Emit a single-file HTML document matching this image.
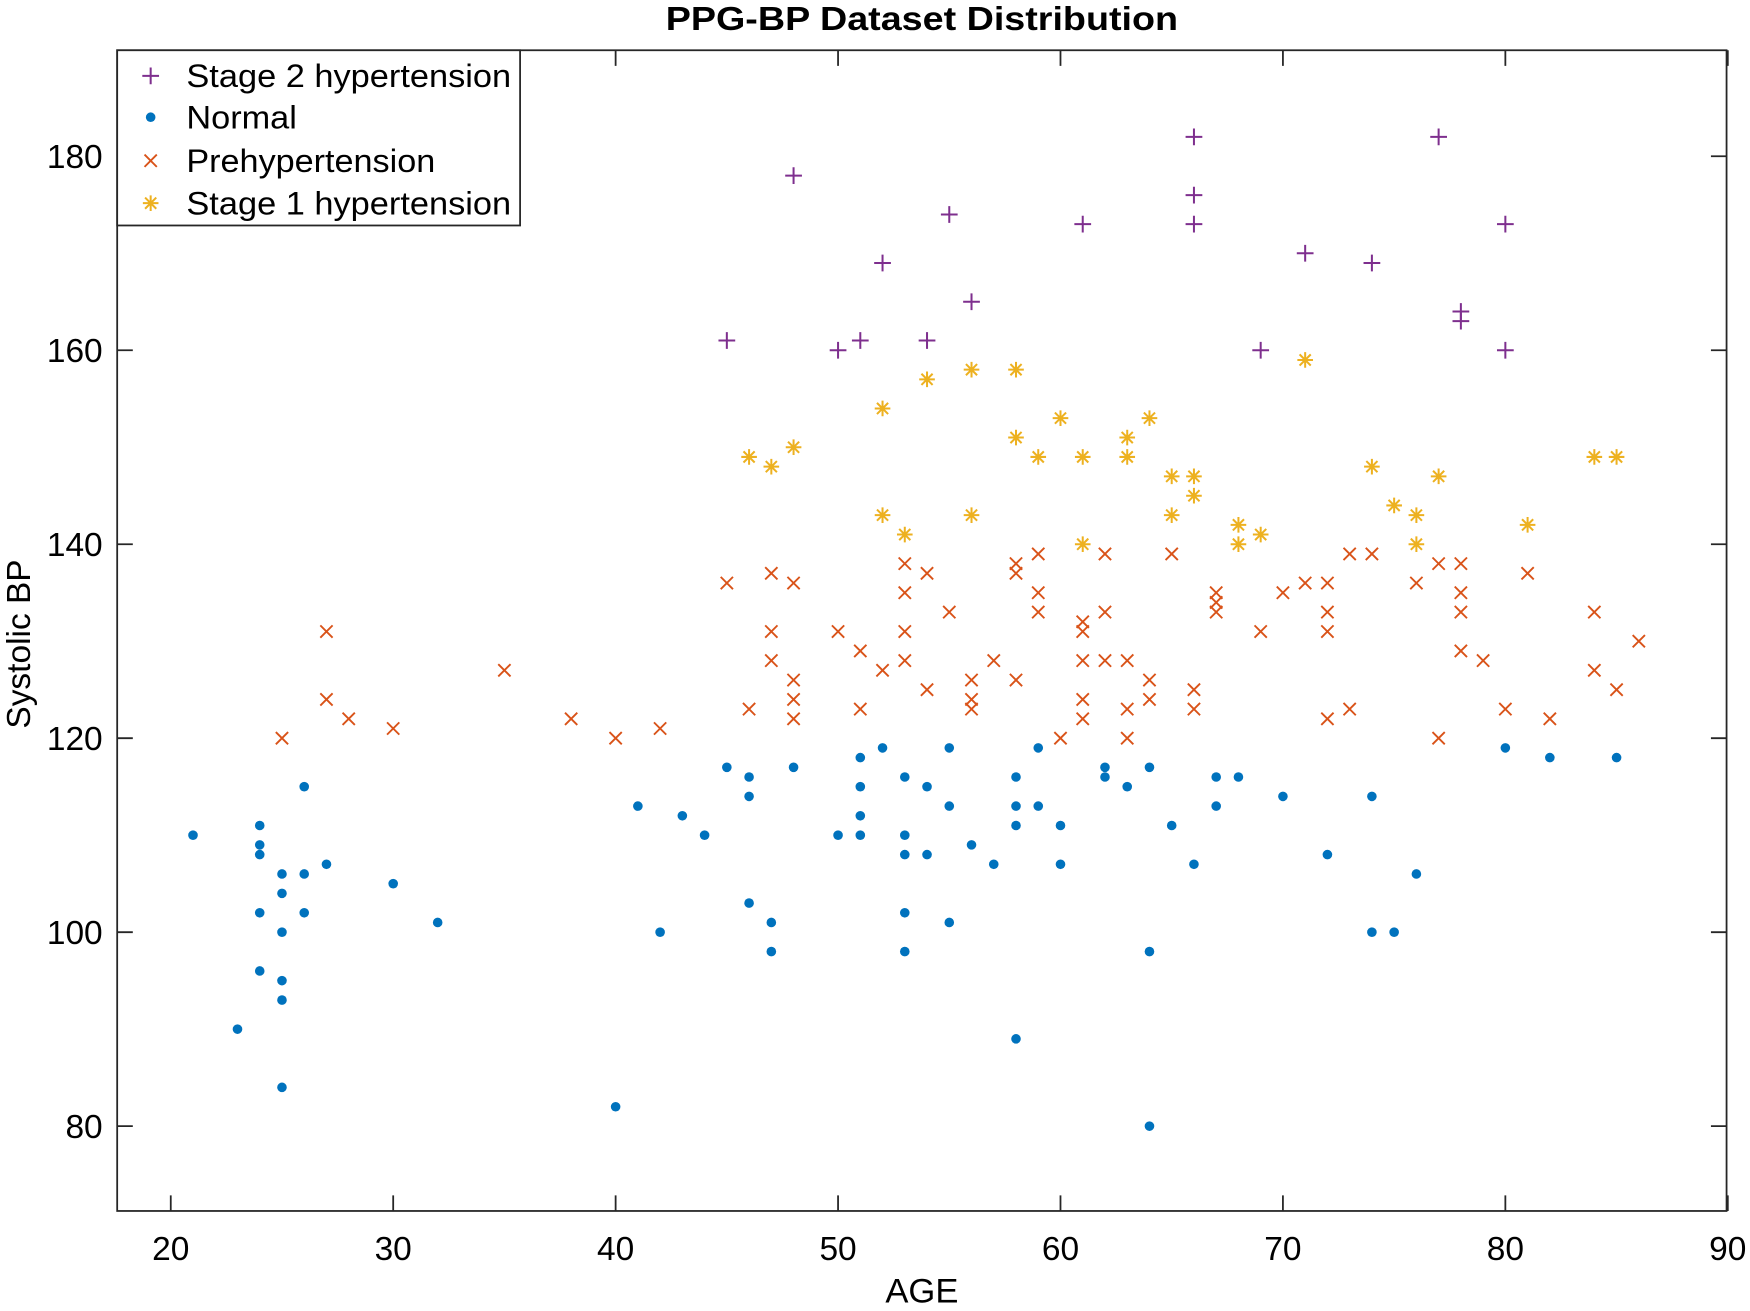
<!DOCTYPE html>
<html><head><meta charset="utf-8"><style>
html,body{margin:0;padding:0;background:#fff;}
svg{display:block;}
text{font-family:"Liberation Sans",Arial,sans-serif;fill:#000;}
</style></head><body>
<svg id="s" width="1750" height="1311" viewBox="0 0 1568 1174.6" xmlns="http://www.w3.org/2000/svg">
<rect x="0" y="0" width="1568" height="1175" fill="#fff"/>
<g id="pts"></g>
<rect x="105" y="45" width="1442" height="1040" fill="none" stroke="#262626" stroke-width="1.6"/>
<g id="ticks" stroke="#262626" stroke-width="1.6"></g>
<g id="lbl" font-size="30" fill="#262626"></g>
<text x="826" y="27" font-size="30" font-weight="bold" text-anchor="middle" textLength="459" lengthAdjust="spacingAndGlyphs">PPG-BP Dataset Distribution</text>
<text x="826" y="1167" font-size="31" text-anchor="middle" fill="#262626">AGE</text>
<text transform="translate(27,577) rotate(-90)" font-size="30" text-anchor="middle" fill="#262626">Systolic BP</text>
<rect x="105" y="45" width="361" height="157" fill="#fff" stroke="#262626" stroke-width="1.6"/>
<g id="leg" font-size="29"></g>
</svg>
<script>
var NS="http://www.w3.org/2000/svg";
function X(a){return 153+(a-20)*19.93;}
function Y(b){return 1009-(b-80)*8.69;}
function el(p,t,at){var e=document.createElementNS(NS,t);for(var k in at)e.setAttribute(k,at[k]);p.appendChild(e);return e;}
var P=document.getElementById('pts');
var C={p:"#7E2F8E",n:"#0072BD",x:"#D95319",s:"#EDB120"};
function mk(g,type,x,y){
 if(type=='p'){el(g,'path',{d:'M'+(x-7.5)+' '+y+'h15M'+x+' '+(y-7.5)+'v15',stroke:C.p,'stroke-width':1.8,fill:'none'});}
 else if(type=='n'){el(g,'circle',{cx:x,cy:y,r:4.3,fill:C.n});}
 else if(type=='x'){el(g,'path',{d:'M'+(x-5.5)+' '+(y-5.5)+'l11 11M'+(x+5.5)+' '+(y-5.5)+'l-11 11',stroke:C.x,'stroke-width':1.7,fill:'none'});}
 else {el(g,'path',{d:'M'+(x-7)+' '+y+'h14M'+x+' '+(y-7)+'v14M'+(x-5)+' '+(y-5)+'l10 10M'+(x+5)+' '+(y-5)+'l-10 10',stroke:C.s,'stroke-width':1.8,fill:'none'});}
}
var D={
p:[[45,161],[48,178],[50,160],[51,161],[52,169],[54,161],[55,174],[56,165],[61,173],[66,182],[66,176],[66,173],[69,160],[71,170],[74,169],[77,182],[78,164],[78,163],[80,173],[80,160]],
s:[[46,149],[47,148],[48,150],[52,154],[52,143],[53,141],[54,157],[56,158],[56,143],[58,158],[58,151],[59,149],[60,153],[61,149],[61,140],[63,151],[63,149],[64,153],[65,147],[65,143],[66,147],[66,145],[68,142],[68,140],[69,141],[71,159],[74,148],[75,144],[76,143],[76,140],[77,147],[81,142],[84,149],[85,149]],
x:[[25,120],[27,131],[27,124],[28,122],[30,121],[35,127],[38,122],[40,120],[42,121],[45,136],[46,123],[47,137],[47,131],[47,128],[48,136],[48,126],[48,124],[48,122],[50,131],[51,129],[51,123],[52,127],[53,138],[53,135],[53,131],[53,128],[54,137],[54,125],[55,133],[56,126],[56,124],[56,123],[57,128],[58,138],[58,137],[58,126],[59,139],[59,135],[59,133],[60,120],[61,132],[61,131],[61,128],[61,124],[61,122],[62,139],[62,133],[62,128],[63,128],[63,123],[63,120],[64,126],[64,124],[65,139],[66,125],[66,123],[67,135],[67,134],[67,133],[69,131],[70,135],[71,136],[72,136],[72,133],[72,131],[72,122],[73,139],[73,123],[74,139],[76,136],[77,138],[77,120],[78,138],[78,135],[78,133],[78,129],[79,128],[80,123],[81,137],[82,122],[84,133],[84,127],[85,125],[86,130]],
n:[[21,110],[23,90],[24,111],[24,109],[24,108],[24,102],[24,96],[25,106],[25,104],[25,100],[25,95],[25,93],[25,84],[26,115],[26,106],[26,102],[27,107],[30,105],[32,101],[40,82],[41,113],[42,100],[43,112],[44,110],[45,117],[46,116],[46,114],[46,103],[47,101],[47,98],[48,117],[50,110],[51,118],[51,115],[51,112],[51,110],[52,119],[53,116],[53,110],[53,108],[53,102],[53,98],[54,115],[54,108],[55,119],[55,113],[55,101],[56,109],[57,107],[58,116],[58,113],[58,111],[58,89],[59,119],[59,113],[60,111],[60,107],[62,117],[62,116],[63,115],[64,117],[64,98],[64,80],[65,111],[66,107],[67,116],[67,113],[68,116],[70,114],[72,108],[74,114],[74,100],[75,100],[76,106],[80,119],[82,118],[85,118]]};
['p','n','x','s'].forEach(function(t){D[t].forEach(function(d){mk(P,t,X(d[0]),Y(d[1]));});});
var T=document.getElementById('ticks'),L=document.getElementById('lbl');
for(var a=20;a<=90;a+=10){var x=X(a);el(T,'path',{d:'M'+x+' 1085v-14M'+x+' 45v14'});var t=el(L,'text',{x:x,y:1129,'text-anchor':'middle'});t.textContent=a;}
for(var b=80;b<=180;b+=20){var y=Y(b);el(T,'path',{d:'M105 '+y+'h14M1547 '+y+'h-14'});var t=el(L,'text',{x:92,y:y+10.5,'text-anchor':'end'});t.textContent=b;}
var G=document.getElementById('leg');
var names=[['p','Stage 2 hypertension',68,291],['n','Normal',105,99],['x','Prehypertension',144,223],['s','Stage 1 hypertension',182,291]];
names.forEach(function(n){mk(G,n[0],135,n[2]);var t=el(G,'text',{x:167,y:n[2]+10,textLength:n[3],lengthAdjust:'spacingAndGlyphs'});t.textContent=n[1];});
</script>
</body></html>
